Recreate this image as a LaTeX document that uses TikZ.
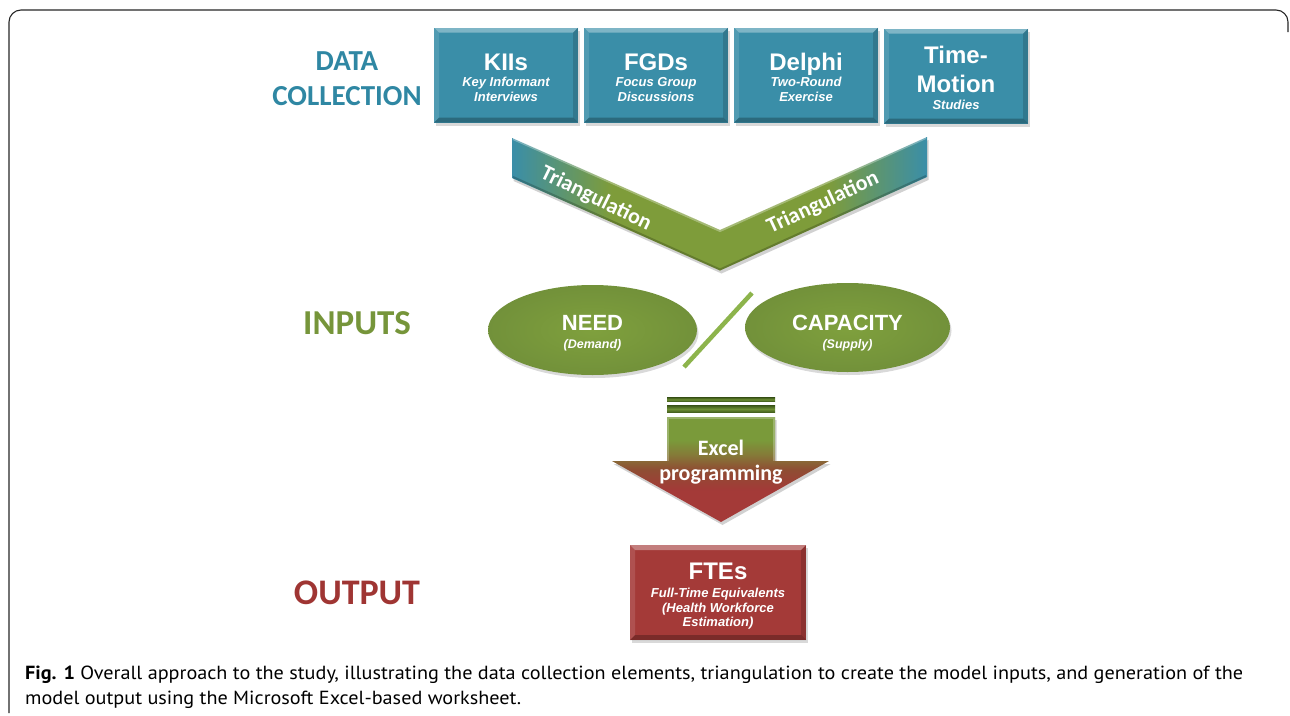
\documentclass[tikz,border=0pt]{standalone}
\usepackage{fontspec}
\setmainfont{Liberation Sans}
\newfontfamily\calib{Carlito}
\newfontfamily\capfont{PT Sans}
\usetikzlibrary{shapes.geometric,shadows}
\definecolor{tealT}{HTML}{2F87A3}
\definecolor{tealB}{HTML}{3A8EA8}
\definecolor{greenT}{HTML}{76953A}
\definecolor{greenV}{HTML}{7E9C3A}
\definecolor{greenE}{HTML}{7FA03D}
\definecolor{greenEd}{HTML}{72913A}
\definecolor{greenL}{HTML}{8DB44C}
\definecolor{greenA}{HTML}{7A9A3A}
\definecolor{olivA}{HTML}{857A38}
\definecolor{brownA}{HTML}{8F4D33}
\definecolor{redB}{HTML}{A43A38}
\definecolor{redT}{HTML}{9F3533}
\definecolor{barD}{HTML}{3F5A1A}
\definecolor{barL}{HTML}{6E8F35}
\definecolor{capgray}{HTML}{2B2B2B}
\pgfdeclarehorizontalshading{vgrad}{100bp}{color(0bp)=(tealB); color(25bp)=(tealB); color(37bp)=(greenV); color(63bp)=(greenV); color(75bp)=(tealB); color(100bp)=(tealB)}
\pgfdeclareverticalshading{agrad}{100bp}{color(0bp)=(redB); color(25bp)=(redB); color(40bp)=(redB); color(50bp)=(brownA); color(57bp)=(olivA); color(64bp)=(greenA); color(75bp)=(greenA); color(100bp)=(greenA)}
\newcommand\bevelfill{%
 \fill[white,opacity=.35] (path picture bounding box.north west) -- (path picture bounding box.north east) -- ([shift={(-5pt,-5pt)}]path picture bounding box.north east) -- ([shift={(5pt,-5pt)}]path picture bounding box.north west) -- cycle;
 \fill[white,opacity=.12] (path picture bounding box.north west) -- ([shift={(5pt,-5pt)}]path picture bounding box.north west) -- ([shift={(5pt,5pt)}]path picture bounding box.south west) -- (path picture bounding box.south west) -- cycle;
 \fill[black,opacity=.15] (path picture bounding box.north east) -- ([shift={(-5pt,-5pt)}]path picture bounding box.north east) -- ([shift={(-5pt,5pt)}]path picture bounding box.south east) -- (path picture bounding box.south east) -- cycle;
 \fill[black,opacity=.25] (path picture bounding box.south west) -- ([shift={(5pt,5pt)}]path picture bounding box.south west) -- ([shift={(-5pt,5pt)}]path picture bounding box.south east) -- (path picture bounding box.south east) -- cycle;
}
\newcommand\ttlf{\fontsize{24}{26}\selectfont\bfseries}
\newcommand\subf{\fontsize{13}{15}\selectfont\bfseries\itshape}
\newsavebox\capboxA
\newsavebox\capboxB
\newlength\capw
\begin{document}
\sbox\capboxA{\capfont\fontsize{19}{25}\selectfont\textbf{Fig. 1} Overall approach to the study, illustrating the data collection elements, triangulation to create the model inputs, and generation of the}%
\sbox\capboxB{\capfont\fontsize{19}{25}\selectfont model output using the Microsoft Excel-based worksheet.}%
\setlength\capw{\wd\capboxA}%
\pgfmathsetmacro\capscale{1218/\capw}%
\begin{tikzpicture}[x=1pt,y=-1pt,
  dbox/.style={fill=tealB, minimum width=144pt, minimum height=95pt, inner sep=0pt, align=center, text=white,
    font=\fontsize{13}{15}\selectfont, text height=54pt,
    drop shadow={shadow xshift=1.5pt, shadow yshift=-3pt, opacity=.3}, path picture={\bevelfill}},
  rbox/.style={dbox, fill=redB, minimum width=176pt, font=\fontsize{13}{14.5}\selectfont, text height=71pt},
  ell/.style={ellipse, inner color=greenE, outer color=greenEd, inner sep=0pt, align=center, text=white,
    font=\fontsize{12.5}{17}\selectfont,
    drop shadow={shadow xshift=1.5pt, shadow yshift=-3pt, opacity=.3}},
  lbl/.style={font=\calib\bfseries\fontsize{29}{35}\selectfont, align=center, inner sep=0pt},
  tri/.style={font=\calib\bfseries\fontsize{22}{24}\selectfont, text=white, inner sep=0pt},
  exc/.style={font=\calib\bfseries\fontsize{22}{25}\selectfont, text=white, align=center, inner sep=0pt},
  slash/.style={line width=4.5pt, draw=greenL}]
\useasboundingbox (0,0) rectangle (1290,715);
% frame
\draw[line width=1.1pt, black!85, rounded corners=12pt] (9,713) -- (9,10) -- (1288,10) -- (1288,32);
% left labels
\node[lbl, text=tealT] (dc) at (347,79) {DATA\\COLLECTION};
\node[lbl, text=greenT, font=\calib\bfseries\fontsize{35}{38}\selectfont] (inp) at (357,323) {INPUTS};
\node[lbl, text=redT, font=\calib\bfseries\fontsize{36}{38}\selectfont] (outp) at (357,593) {OUTPUT};
% data collection boxes
\node[dbox] (kii) at (506,75) {\ttlf KIIs\\[1pt]\subf Key Informant\\\subf Interviews};
\node[dbox] (fgd) at (656,75) {\ttlf FGDs\\[1pt]\subf Focus Group\\\subf Discussions};
\node[dbox] (del) at (806,75) {\ttlf Delphi\\[1pt]\subf Two-Round\\\subf Exercise};
\node[dbox, text height=68pt] (tms) at (956,76) {\ttlf Time-\\[11pt]\ttlf Motion\\[2pt]\subf Studies};
% V triangulation
\coordinate (vLT) at (512,138);
\coordinate (vMT) at (720,230);
\coordinate (vRT) at (927,137);
\coordinate (vRB) at (927,177);
\coordinate (vMB) at (720,270.5);
\coordinate (vLB) at (512,178);
\fill[black,opacity=.18] ([shift={(1.5pt,-3pt)}]vLT) -- ([shift={(1.5pt,-3pt)}]vMT) -- ([shift={(1.5pt,-3pt)}]vRT) -- ([shift={(1.5pt,-3pt)}]vRB) -- ([shift={(1.5pt,-3pt)}]vMB) -- ([shift={(1.5pt,-3pt)}]vLB) -- cycle;
\shade[shading=vgrad] (vLT) -- (vMT) -- (vRT) -- (vRB) -- (vMB) -- (vLB) -- cycle;
\draw[white,opacity=.3,line width=2pt] ([shift={(1pt,-1pt)}]vLT) -- ([shift={(0pt,-1pt)}]vMT) -- ([shift={(-1pt,-1pt)}]vRT);
\draw[black,opacity=.2,line width=2pt] ([shift={(1pt,1pt)}]vLB) -- ([shift={(0pt,1pt)}]vMB) -- ([shift={(-1pt,1pt)}]vRB);
\node[tri, rotate=-26] (triL) at (596,199) {Triangulation};
\node[tri, rotate=25] (triR) at (823,203) {Triangulation};
% inputs
\node[ell, minimum width=209pt, minimum height=90pt, text height=40pt] (need) at (592.5,330) {\fontsize{22}{24}\selectfont\bfseries NEED\\[1pt]\fontsize{12.5}{14}\selectfont\bfseries\itshape (Demand)};
\node[ell, minimum width=205pt, minimum height=89pt, text height=45pt] (cap) at (847.5,327.5) {\fontsize{22}{24}\selectfont\bfseries CAPACITY\\[1pt]\fontsize{12.5}{14}\selectfont\bfseries\itshape (Supply)};
\coordinate (slA) at (752,293);
\coordinate (slB) at (684,367);
\draw[slash] (slA) -- (slB);
% arrow
\shade[top color=barD, bottom color=barD, middle color=barL] (667,397.5) rectangle (775,401.5);
\shade[top color=barD, bottom color=barD, middle color=barL] (667,405.5) rectangle (775,412.5);
\fill[black,opacity=.18] (668.5,420) -- (776.5,420) -- (776.5,464) -- (830.5,464) -- (722.5,525) -- (613.5,464) -- (668.5,464) -- cycle;
\shade[shading=agrad] (667,417) -- (775,417) -- (775,461) -- (829,461) -- (721,522) -- (612,461) -- (667,461) -- cycle;
\draw[white,opacity=.25,line width=1.5pt] (668,461) -- (668,418) -- (774,418) -- (774,461);
\node[exc] (excel) at (721,462) {Excel\\programming};
% output
\node[rbox] (fte) at (718,592.5) {\ttlf FTEs\\[4pt]\subf Full-Time Equivalents\\\subf (Health Workforce\\\subf Estimation)};
% caption
\node[anchor=base west, inner sep=0pt, text=capgray] (cap1) at (25,679) {\scalebox{\capscale}[1]{\usebox\capboxA}};
\node[anchor=base west, inner sep=0pt, text=capgray] (cap2) at (25,704) {\scalebox{\capscale}[1]{\usebox\capboxB}};
\end{tikzpicture}
\end{document}
